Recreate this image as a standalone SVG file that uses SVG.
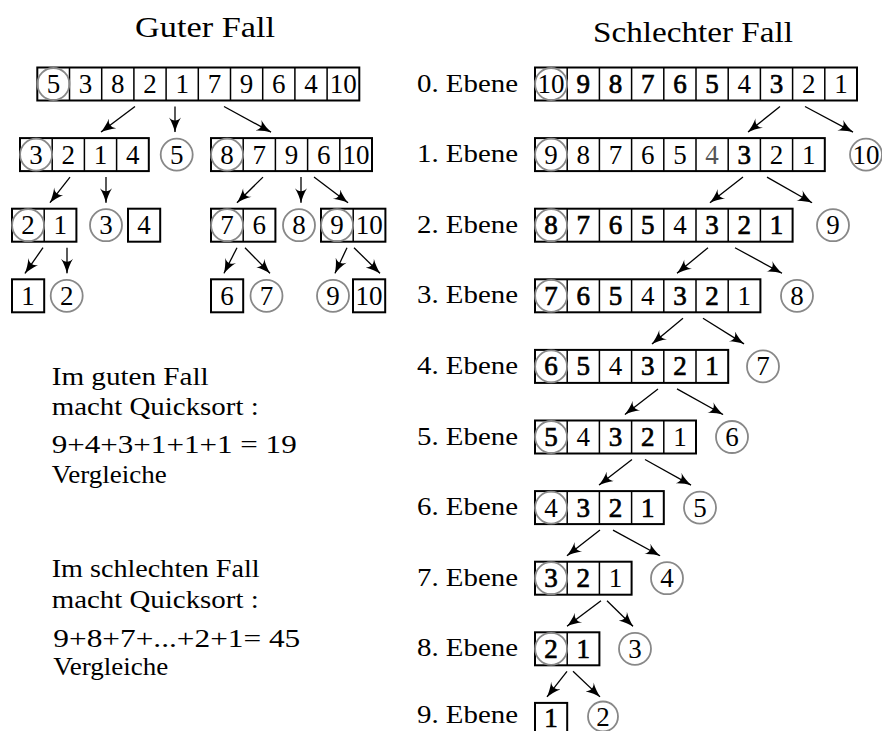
<svg xmlns="http://www.w3.org/2000/svg" width="882" height="731" viewBox="0 0 882 731">
<style>
text{font-family:"Liberation Serif",LiberationSerif,"Liberation Serif Regular",Tinos,"DejaVu Serif","Times New Roman",Times,"Nimbus Roman","FreeSerif",serif;fill:#000}
.t{font-size:30px}
.p{font-size:26px}
.d{font-size:27px;text-anchor:middle}
.b{stroke:#000;stroke-width:0.7}
.g{fill:#555}
.box{fill:none;stroke:#000;stroke-width:2}
.dv{fill:none;stroke:#000;stroke-width:1.5}
.c{fill:none;stroke:#888;stroke-width:1.8}
.a{fill:none;stroke:#000;stroke-width:1.3;marker-end:url(#ah)}
</style>
<defs>
<marker id="ah" markerUnits="userSpaceOnUse" markerWidth="16" markerHeight="12" refX="15.5" refY="6" orient="auto" viewBox="0 0 16 12">
<path d="M16,6 C11.5,5 6,3 1,0 C5,3.5 5,8.5 1,12 C6,9 11.5,7 16,6 Z" fill="#000"/>
</marker>
</defs>
<rect width="882" height="731" fill="#fff"/>

<text class="t" x="135" y="36.7" textLength="140" lengthAdjust="spacingAndGlyphs">Guter Fall</text>
<text class="t" x="593" y="41.5" textLength="200" lengthAdjust="spacingAndGlyphs">Schlechter Fall</text>

<g id="notes">
<text class="p" x="51.7" y="385" textLength="157" lengthAdjust="spacingAndGlyphs">Im guten Fall</text>
<text class="p" x="51.7" y="415" textLength="207" lengthAdjust="spacingAndGlyphs">macht Quicksort :</text>
<text class="p" x="51.7" y="453" textLength="245" lengthAdjust="spacingAndGlyphs">9+4+3+1+1+1 = 19</text>
<text class="p" x="51.7" y="483" textLength="115" lengthAdjust="spacingAndGlyphs">Vergleiche</text>
<text class="p" x="51.7" y="577" textLength="208" lengthAdjust="spacingAndGlyphs">Im schlechten Fall</text>
<text class="p" x="51.7" y="608" textLength="207" lengthAdjust="spacingAndGlyphs">macht Quicksort :</text>
<text class="p" x="53.3" y="647" textLength="247" lengthAdjust="spacingAndGlyphs">9+8+7+...+2+1= 45</text>
<text class="p" x="53.3" y="675" textLength="115" lengthAdjust="spacingAndGlyphs">Vergleiche</text>
</g>

<g id="connectors">
<line class="a" x1="135" y1="106.5" x2="101" y2="132.1"/>
<line class="a" x1="175" y1="106.5" x2="175" y2="132.1"/>
<line class="a" x1="224" y1="106.5" x2="271" y2="132.1"/>
<line class="a" x1="70" y1="177.1" x2="50" y2="202.7"/>
<line class="a" x1="106" y1="177.1" x2="106" y2="202.7"/>
<line class="a" x1="263" y1="177.1" x2="237" y2="202.7"/>
<line class="a" x1="301" y1="177.1" x2="301" y2="202.7"/>
<line class="a" x1="314" y1="177.1" x2="348" y2="202.7"/>
<line class="a" x1="43" y1="247.7" x2="25" y2="273.3"/>
<line class="a" x1="67" y1="247.7" x2="67" y2="273.3"/>
<line class="a" x1="237" y1="247.7" x2="224" y2="273.3"/>
<line class="a" x1="245" y1="247.7" x2="270" y2="273.3"/>
<line class="a" x1="347" y1="247.7" x2="335" y2="273.3"/>
<line class="a" x1="354" y1="247.7" x2="380" y2="273.3"/>

<line class="a" x1="780" y1="106.5" x2="748" y2="132.1"/>
<line class="a" x1="805" y1="106.5" x2="853" y2="132.1"/>
<line class="a" x1="743" y1="177.1" x2="710" y2="202.7"/>
<line class="a" x1="767" y1="177.1" x2="812" y2="202.7"/>
<line class="a" x1="708" y1="247.7" x2="677" y2="273.3"/>
<line class="a" x1="735" y1="247.7" x2="782" y2="273.3"/>
<line class="a" x1="683" y1="318.3" x2="652" y2="343.9"/>
<line class="a" x1="703" y1="318.3" x2="744" y2="343.9"/>
<line class="a" x1="658" y1="388.9" x2="625" y2="414.5"/>
<line class="a" x1="677" y1="388.9" x2="723" y2="414.5"/>
<line class="a" x1="632" y1="459.5" x2="599" y2="485.1"/>
<line class="a" x1="645" y1="459.5" x2="691" y2="485.1"/>
<line class="a" x1="600" y1="530.1" x2="567" y2="555.7"/>
<line class="a" x1="613" y1="530.1" x2="660" y2="555.7"/>
<line class="a" x1="601" y1="600.7" x2="567" y2="626.3"/>
<line class="a" x1="607" y1="600.7" x2="633" y2="626.3"/>
<line class="a" x1="567" y1="671.3" x2="547" y2="696.9"/>
<line class="a" x1="573" y1="671.3" x2="600" y2="696.9"/>
</g>

<!-- Left tree -->
<g id="g-r0">
<rect class="box" x="37.3" y="67.5" width="322" height="33"/>
<path class="dv" d="M69.5,67.5V100.5M101.7,67.5V100.5M133.9,67.5V100.5M166.1,67.5V100.5M198.3,67.5V100.5M230.5,67.5V100.5M262.7,67.5V100.5M294.9,67.5V100.5M327.1,67.5V100.5"/>
<circle class="c" cx="53.4" cy="84" r="16"/>
<text class="d" x="53.4" y="93">5</text><text class="d" x="85.6" y="93">3</text><text class="d" x="117.8" y="93">8</text><text class="d" x="150" y="93">2</text><text class="d" x="182.2" y="93">1</text><text class="d" x="214.4" y="93">7</text><text class="d" x="246.6" y="93">9</text><text class="d" x="278.8" y="93">6</text><text class="d" x="311" y="93">4</text><text class="d" x="343.2" y="93">10</text>
</g>
<g id="g-r1a">
<rect class="box" x="20" y="138.1" width="128.8" height="33"/>
<path class="dv" d="M52.2,138.1V171.1M84.4,138.1V171.1M116.6,138.1V171.1"/>
<circle class="c" cx="36.1" cy="154.6" r="16"/>
<text class="d" x="36.1" y="163.6">3</text><text class="d" x="68.3" y="163.6">2</text><text class="d" x="100.5" y="163.6">1</text><text class="d" x="132.7" y="163.6">4</text>
</g>
<g id="g-r1p">
<circle class="c" cx="176.7" cy="154.6" r="16"/>
<text class="d" x="176.7" y="163.6">5</text>
</g>
<g id="g-r1b">
<rect class="box" x="211" y="138.1" width="161" height="33"/>
<path class="dv" d="M243.2,138.1V171.1M275.4,138.1V171.1M307.6,138.1V171.1M339.8,138.1V171.1"/>
<circle class="c" cx="227.1" cy="154.6" r="16"/>
<text class="d" x="227.1" y="163.6">8</text><text class="d" x="259.3" y="163.6">7</text><text class="d" x="291.5" y="163.6">9</text><text class="d" x="323.7" y="163.6">6</text><text class="d" x="355.9" y="163.6">10</text>
</g>
<g id="g-r2a">
<rect class="box" x="12" y="208.7" width="64.4" height="33"/>
<path class="dv" d="M44.2,208.7V241.7"/>
<circle class="c" cx="28.1" cy="225.2" r="16"/>
<text class="d" x="28.1" y="234.2">2</text><text class="d" x="60.3" y="234.2">1</text>
</g>
<g id="g-r2p3">
<circle class="c" cx="106" cy="225.2" r="16"/>
<text class="d" x="106" y="234.2">3</text>
</g>
<g id="g-r2b">
<rect class="box" x="128" y="208.7" width="32.2" height="33"/>
<text class="d" x="144.1" y="234.2">4</text>
</g>
<g id="g-r2c">
<rect class="box" x="211" y="208.7" width="64.4" height="33"/>
<path class="dv" d="M243.2,208.7V241.7"/>
<circle class="c" cx="227.1" cy="225.2" r="16"/>
<text class="d" x="227.1" y="234.2">7</text><text class="d" x="259.3" y="234.2">6</text>
</g>
<g id="g-r2p8">
<circle class="c" cx="299" cy="225.2" r="16"/>
<text class="d" x="299" y="234.2">8</text>
</g>
<g id="g-r2d">
<rect class="box" x="321" y="208.7" width="64.4" height="33"/>
<path class="dv" d="M353.2,208.7V241.7"/>
<circle class="c" cx="337.1" cy="225.2" r="16"/>
<text class="d" x="337.1" y="234.2">9</text><text class="d" x="369.3" y="234.2">10</text>
</g>
<g id="g-r3a">
<rect class="box" x="12" y="279.3" width="32.2" height="33"/>
<text class="d" x="28.1" y="304.8">1</text>
</g>
<g id="g-r3p2">
<circle class="c" cx="66.7" cy="295.8" r="16"/>
<text class="d" x="66.7" y="304.8">2</text>
</g>
<g id="g-r3b">
<rect class="box" x="211" y="279.3" width="32.2" height="33"/>
<text class="d" x="227.1" y="304.8">6</text>
</g>
<g id="g-r3p7">
<circle class="c" cx="266.5" cy="295.8" r="16"/>
<text class="d" x="266.5" y="304.8">7</text>
</g>
<g id="g-r3p9">
<circle class="c" cx="333" cy="295.8" r="16"/>
<text class="d" x="333" y="304.8">9</text>
</g>
<g id="g-r3c">
<rect class="box" x="353" y="279.3" width="32.2" height="33"/>
<text class="d" x="369.1" y="304.8">10</text>
</g>

<!-- Right: worst case -->
<g id="s-r0">
<text class="p" x="417" y="91.5" textLength="101" lengthAdjust="spacingAndGlyphs">0. Ebene</text>
<rect class="box" x="535" y="67.5" width="322" height="33"/>
<path class="dv" d="M567.2,67.5V100.5M599.4,67.5V100.5M631.6,67.5V100.5M663.8,67.5V100.5M696,67.5V100.5M728.2,67.5V100.5M760.4,67.5V100.5M792.6,67.5V100.5M824.8,67.5V100.5"/>
<circle class="c" cx="551.1" cy="84" r="16"/>
<text class="d" x="551.1" y="93">10</text><text class="d b" x="583.3" y="93">9</text><text class="d b" x="615.5" y="93">8</text><text class="d b" x="647.7" y="93">7</text><text class="d b" x="679.9" y="93">6</text><text class="d b" x="712.1" y="93">5</text><text class="d" x="744.3" y="93">4</text><text class="d b" x="776.5" y="93">3</text><text class="d" x="808.7" y="93">2</text><text class="d" x="840.9" y="93">1</text>
</g>
<g id="s-r1">
<text class="p" x="417" y="162.1" textLength="101" lengthAdjust="spacingAndGlyphs">1. Ebene</text>
<rect class="box" x="535" y="138.1" width="289.8" height="33"/>
<path class="dv" d="M567.2,138.1V171.1M599.4,138.1V171.1M631.6,138.1V171.1M663.8,138.1V171.1M696,138.1V171.1M728.2,138.1V171.1M760.4,138.1V171.1M792.6,138.1V171.1"/>
<circle class="c" cx="551.1" cy="154.6" r="16"/>
<text class="d" x="551.1" y="163.6">9</text><text class="d" x="583.3" y="163.6">8</text><text class="d" x="615.5" y="163.6">7</text><text class="d" x="647.7" y="163.6">6</text><text class="d" x="679.9" y="163.6">5</text><text class="d g" x="712.1" y="163.6">4</text><text class="d b" x="744.3" y="163.6">3</text><text class="d" x="776.5" y="163.6">2</text><text class="d" x="808.7" y="163.6">1</text>
</g>
<g id="s-p10"><circle class="c" cx="866" cy="154.6" r="16"/><text class="d" x="866" y="163.6">10</text></g>
<g id="s-r2">
<text class="p" x="417" y="232.7" textLength="101" lengthAdjust="spacingAndGlyphs">2. Ebene</text>
<rect class="box" x="535" y="208.7" width="257.6" height="33"/>
<path class="dv" d="M567.2,208.7V241.7M599.4,208.7V241.7M631.6,208.7V241.7M663.8,208.7V241.7M696,208.7V241.7M728.2,208.7V241.7M760.4,208.7V241.7"/>
<circle class="c" cx="551.1" cy="225.2" r="16"/>
<text class="d b" x="551.1" y="234.2">8</text><text class="d b" x="583.3" y="234.2">7</text><text class="d b" x="615.5" y="234.2">6</text><text class="d b" x="647.7" y="234.2">5</text><text class="d" x="679.9" y="234.2">4</text><text class="d b" x="712.1" y="234.2">3</text><text class="d b" x="744.3" y="234.2">2</text><text class="d b" x="776.5" y="234.2">1</text>
</g>
<g id="s-p9"><circle class="c" cx="833" cy="225.2" r="16"/><text class="d" x="833" y="234.2">9</text></g>
<g id="s-r3">
<text class="p" x="417" y="303.3" textLength="101" lengthAdjust="spacingAndGlyphs">3. Ebene</text>
<rect class="box" x="535" y="279.3" width="225.4" height="33"/>
<path class="dv" d="M567.2,279.3V312.3M599.4,279.3V312.3M631.6,279.3V312.3M663.8,279.3V312.3M696,279.3V312.3M728.2,279.3V312.3"/>
<circle class="c" cx="551.1" cy="295.8" r="16"/>
<text class="d b" x="551.1" y="304.8">7</text><text class="d b" x="583.3" y="304.8">6</text><text class="d b" x="615.5" y="304.8">5</text><text class="d" x="647.7" y="304.8">4</text><text class="d b" x="679.9" y="304.8">3</text><text class="d b" x="712.1" y="304.8">2</text><text class="d" x="744.3" y="304.8">1</text>
</g>
<g id="s-p8"><circle class="c" cx="797" cy="295.8" r="16"/><text class="d" x="797" y="304.8">8</text></g>
<g id="s-r4">
<text class="p" x="417" y="373.9" textLength="101" lengthAdjust="spacingAndGlyphs">4. Ebene</text>
<rect class="box" x="535" y="349.9" width="193.2" height="33"/>
<path class="dv" d="M567.2,349.9V382.9M599.4,349.9V382.9M631.6,349.9V382.9M663.8,349.9V382.9M696,349.9V382.9"/>
<circle class="c" cx="551.1" cy="366.4" r="16"/>
<text class="d b" x="551.1" y="375.4">6</text><text class="d b" x="583.3" y="375.4">5</text><text class="d" x="615.5" y="375.4">4</text><text class="d b" x="647.7" y="375.4">3</text><text class="d b" x="679.9" y="375.4">2</text><text class="d b" x="712.1" y="375.4">1</text>
</g>
<g id="s-p7"><circle class="c" cx="763" cy="366.4" r="16"/><text class="d" x="763" y="375.4">7</text></g>
<g id="s-r5">
<text class="p" x="417" y="444.5" textLength="101" lengthAdjust="spacingAndGlyphs">5. Ebene</text>
<rect class="box" x="535" y="420.5" width="161" height="33"/>
<path class="dv" d="M567.2,420.5V453.5M599.4,420.5V453.5M631.6,420.5V453.5M663.8,420.5V453.5"/>
<circle class="c" cx="551.1" cy="437" r="16"/>
<text class="d b" x="551.1" y="446">5</text><text class="d" x="583.3" y="446">4</text><text class="d b" x="615.5" y="446">3</text><text class="d b" x="647.7" y="446">2</text><text class="d" x="679.9" y="446">1</text>
</g>
<g id="s-p6"><circle class="c" cx="732" cy="437" r="16"/><text class="d" x="732" y="446">6</text></g>
<g id="s-r6">
<text class="p" x="417" y="515.1" textLength="101" lengthAdjust="spacingAndGlyphs">6. Ebene</text>
<rect class="box" x="535" y="491.1" width="128.8" height="33"/>
<path class="dv" d="M567.2,491.1V524.1M599.4,491.1V524.1M631.6,491.1V524.1"/>
<circle class="c" cx="551.1" cy="507.6" r="16"/>
<text class="d" x="551.1" y="516.6">4</text><text class="d b" x="583.3" y="516.6">3</text><text class="d b" x="615.5" y="516.6">2</text><text class="d b" x="647.7" y="516.6">1</text>
</g>
<g id="s-p5"><circle class="c" cx="700" cy="507.6" r="16"/><text class="d" x="700" y="516.6">5</text></g>
<g id="s-r7">
<text class="p" x="417" y="585.7" textLength="101" lengthAdjust="spacingAndGlyphs">7. Ebene</text>
<rect class="box" x="535" y="561.7" width="96.6" height="33"/>
<path class="dv" d="M567.2,561.7V594.7M599.4,561.7V594.7"/>
<circle class="c" cx="551.1" cy="578.2" r="16"/>
<text class="d b" x="551.1" y="587.2">3</text><text class="d b" x="583.3" y="587.2">2</text><text class="d" x="615.5" y="587.2">1</text>
</g>
<g id="s-p4"><circle class="c" cx="667" cy="578.2" r="16"/><text class="d" x="667" y="587.2">4</text></g>
<g id="s-r8">
<text class="p" x="417" y="656.3" textLength="101" lengthAdjust="spacingAndGlyphs">8. Ebene</text>
<rect class="box" x="535" y="632.3" width="64.4" height="33"/>
<path class="dv" d="M567.2,632.3V665.3"/>
<circle class="c" cx="551.1" cy="648.8" r="16"/>
<text class="d b" x="551.1" y="657.8">2</text><text class="d b" x="583.3" y="657.8">1</text>
</g>
<g id="s-p3"><circle class="c" cx="635" cy="648.8" r="16"/><text class="d" x="635" y="657.8">3</text></g>
<g id="s-r9">
<text class="p" x="417" y="723" textLength="101" lengthAdjust="spacingAndGlyphs">9. Ebene</text>
<rect class="box" x="535" y="702.9" width="32.2" height="33"/>
<text class="d b" x="551.1" y="726.5">1</text>
</g>
<g id="s-p2"><circle class="c" cx="603" cy="716.5" r="15"/><text class="d" x="603" y="725.5">2</text></g>
</svg>
